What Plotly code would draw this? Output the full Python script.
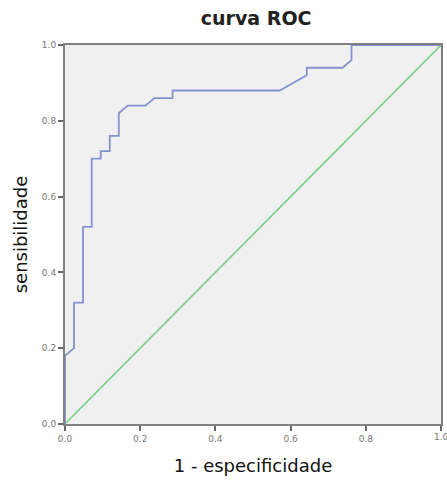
import plotly.graph_objects as go

# ROC curve points
fpr = [0, 0, 0.024, 0.024, 0.048, 0.048, 0.071, 0.071, 0.095, 0.095, 0.119, 0.119,
       0.143, 0.143, 0.167, 0.214, 0.238, 0.286, 0.286, 0.571, 0.643, 0.643,
       0.738, 0.762, 0.762, 1.0]
tpr = [0, 0.18, 0.20, 0.32, 0.32, 0.52, 0.52, 0.70, 0.70, 0.72, 0.72, 0.76,
       0.76, 0.82, 0.84, 0.84, 0.86, 0.86, 0.88, 0.88, 0.92, 0.94,
       0.94, 0.96, 1.0, 1.0]
ref_x = [0, 1]
ref_y = [0, 1]
tick_vals = [0.0, 0.2, 0.4, 0.6, 0.8, 1.0]
tick_text = ["0.0", "0.2", "0.4", "0.6", "0.8", "1.0"]

fig = go.Figure()
fig.add_trace(go.Scatter(x=ref_x, y=ref_y, mode="lines",
                         line=dict(color="#7dcf8a", width=1.6), showlegend=False))
fig.add_trace(go.Scatter(x=fpr, y=tpr, mode="lines",
                         line=dict(color="#8592d0", width=1.8), showlegend=False))

tick_font = dict(family="DejaVu Sans", size=9, color="#777")
axis_common = dict(range=[0, 1], tickvals=tick_vals, ticktext=tick_text,
                   showgrid=False, zeroline=False, showline=True, mirror=True,
                   linecolor="#808080", linewidth=2, ticks="outside", ticklen=5,
                   tickcolor="#666", tickwidth=1.5, automargin=False,
                   tickfont=tick_font)

# last x tick label (plotly hides it because it overflows the page edge)
fig.add_annotation(x=tick_vals[-1], xref="x", y=0, yref="paper", yshift=-13,
                   text=tick_text[-1], showarrow=False, font=tick_font,
                   xanchor="center", yanchor="middle")

fig.update_layout(
    width=447, height=482,
    margin=dict(l=65, r=6, t=45, b=58, autoexpand=False),
    paper_bgcolor="white", plot_bgcolor="#f0f0f0",
    title=dict(text="<b>curva ROC</b>", x=0.573, xanchor="center", y=0.961, yanchor="middle",
               font=dict(family="DejaVu Sans", size=19, color="#222")),
    xaxis=dict(axis_common, title=dict(text="1 - especificidade", standoff=17,
               font=dict(family="DejaVu Sans", size=18, color="#111"))),
    yaxis=dict(axis_common, title=dict(text="sensibilidade", standoff=10,
               font=dict(family="DejaVu Sans", size=18, color="#111"))),
)

fig.write_html("out.html")
